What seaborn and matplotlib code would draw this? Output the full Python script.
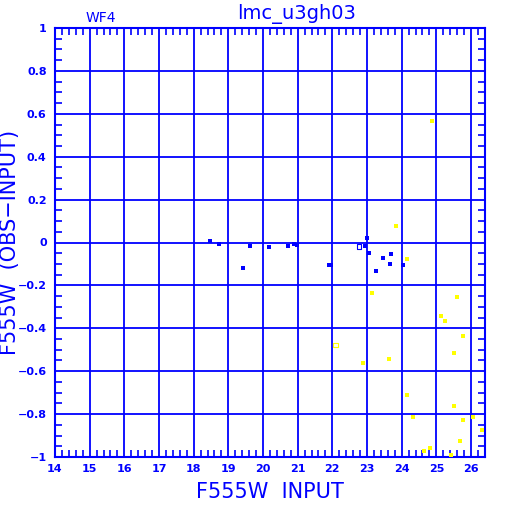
import matplotlib
matplotlib.use("Agg")
import matplotlib.pyplot as plt
import seaborn as sns
import pandas as pd
import numpy as np
from matplotlib.ticker import MultipleLocator

# Blue series (well-measured stars)
blue_x = [18.47, 18.73, 19.62, 19.43, 20.18, 20.73, 20.90, 20.99, 21.91, 21.95,
          23.00, 22.93, 23.05, 23.69, 23.47, 23.67, 23.26, 24.04]
blue_y = [0.006, -0.006, -0.016, -0.117, -0.019, -0.014, -0.008, -0.013, -0.106, -0.106,
          0.020, -0.017, -0.047, -0.055, -0.073, -0.100, -0.134, -0.106]
blue_open_x = [22.76]
blue_open_y = [-0.019]

# Yellow series (faint / flagged stars)
yellow_x = [23.84, 24.15, 24.88, 25.60, 23.14, 25.13, 25.25, 25.77, 25.51, 22.88,
            23.63, 24.15, 25.51, 24.33, 25.77, 26.06, 26.33, 25.69, 24.83, 24.65, 25.42]
yellow_y = [0.078, -0.078, 0.567, -0.252, -0.234, -0.343, -0.368, -0.436, -0.517, -0.564,
            -0.545, -0.710, -0.760, -0.813, -0.829, -0.813, -0.872, -0.927, -0.957, -0.972, -0.992]
yellow_open_x = [22.09]
yellow_open_y = [-0.478]

x_ticks = list(range(14, 27))
y_ticks = [-1, -0.8, -0.6, -0.4, -0.2, 0, 0.2, 0.4, 0.6, 0.8, 1]
y_tick_labels = ["\u22121", "\u22120.8", "\u22120.6", "\u22120.4", "\u22120.2", "0",
                 "0.2", "0.4", "0.6", "0.8", "1"]

BLUE = "#0000ff"
YELLOW = "#ffff00"

sns.set_style("white")
plt.rcParams['font.family'] = ['DejaVu Sans']

fig = plt.figure(figsize=(5.12, 5.12), dpi=100)
ax = fig.add_axes([55/512, 1 - 457/512, (484.5 - 55)/512, (457 - 28)/512])

df_b = pd.DataFrame({"x": blue_x, "y": blue_y})
df_y = pd.DataFrame({"x": yellow_x, "y": yellow_y})
sns.scatterplot(data=df_b, x="x", y="y", ax=ax, marker="s", s=5, color=BLUE,
                edgecolor=BLUE, linewidth=0, zorder=3)
sns.scatterplot(data=df_y, x="x", y="y", ax=ax, marker="s", s=5, color=YELLOW,
                edgecolor=YELLOW, linewidth=0, zorder=3)
sns.scatterplot(x=blue_open_x, y=blue_open_y, ax=ax, marker="s", s=9,
                facecolor="none", edgecolor=BLUE, linewidth=0.8, zorder=3)
sns.scatterplot(x=yellow_open_x, y=yellow_open_y, ax=ax, marker="s", s=9,
                facecolor="none", edgecolor=YELLOW, linewidth=0.8, zorder=3)

ax.set_xlim(14, 26.39)
ax.set_ylim(-1, 1)
ax.set_xticks(x_ticks)
ax.set_yticks(y_ticks)
ax.set_yticklabels(y_tick_labels)
ax.xaxis.set_minor_locator(MultipleLocator(0.2))
ax.yaxis.set_minor_locator(MultipleLocator(0.05))
ax.grid(True, which="major", color=BLUE, linewidth=1.3, zorder=1)
ax.set_axisbelow(True)
for sp in ax.spines.values():
    sp.set_color(BLUE)
    sp.set_linewidth(1.5)
ax.tick_params(which="both", direction="in", colors=BLUE, top=True, right=True,
               bottom=True, left=True, labelsize=8, width=1.2)
ax.tick_params(which="major", length=0)
ax.tick_params(axis="y", which="major", pad=6)
ax.tick_params(axis="x", which="major", pad=5)
ax.tick_params(which="minor", length=5)
for lab in ax.get_xticklabels() + ax.get_yticklabels():
    lab.set_fontweight("bold")
    lab.set_color(BLUE)

ax.set_xlabel("F555W  INPUT", color=BLUE, fontsize=15, labelpad=6)
ax.set_ylabel("F555W  (OBS\u2212INPUT)", color=BLUE, fontsize=15)
ax.yaxis.set_label_coords((20 - 55) / 429.5, 0.5)
fig.text(297/512, 1 - 14/512, "lmc_u3gh03", color=BLUE, fontsize=14,
         ha="center", va="center")
fig.text(101/512, 1 - 18/512, "WF4", color=BLUE, fontsize=10,
         ha="center", va="center")

fig.savefig("out.png", dpi=100, facecolor="white")
